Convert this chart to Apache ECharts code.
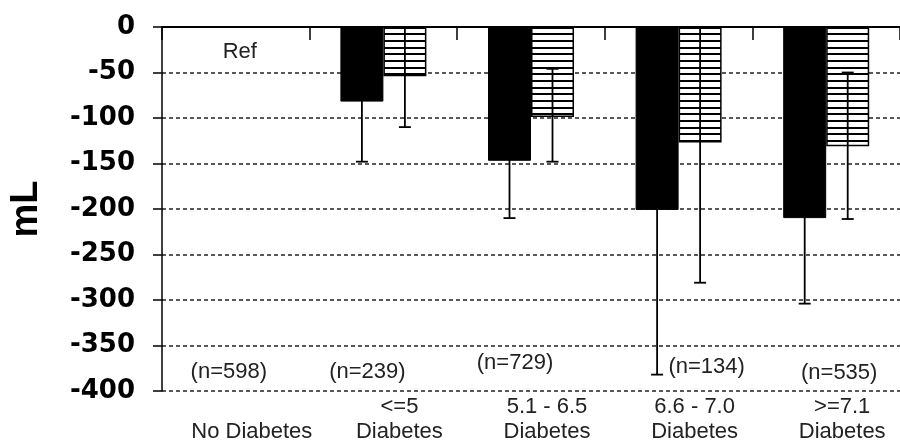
<!DOCTYPE html>
<html><head><meta charset="utf-8">
<script src="https://cdn.jsdelivr.net/npm/echarts@6/dist/echarts.min.js"></script>
<style>html,body{margin:0;padding:0;background:#fff}#c{width:900px;height:446px}</style>
</head><body><div id="c"></div>
<script>
// ---- data ----
const categories = ['\nNo Diabetes', '<=5\nDiabetes', '5.1 - 6.5\nDiabetes', '6.6 - 7.0\nDiabetes', '>=7.1\nDiabetes'];
const sampleSizes = ['(n=598)', '(n=239)', '(n=729)', '(n=134)', '(n=535)'];
const refText = 'Ref';
const yMin = -400, yMax = 0, yStep = 50;
const solidValues = [null, -82, -147, -201, -210];
const solidLow    = [null, -148, -210, -382, -304];
const solidHigh   = [null, -16, -84, -20, -116];
const hatchValues = [null, -54, -99, -127, -131];
const hatchLow    = [null, -110, -148, -281, -211];
const hatchHigh   = [null, 2, -46, 26, -50];

// ---- layout / style ----
const BAR_W = 43;
const nLabelDx = [-7, -16, -16, 28, 13];
const nLabelDy = [0, 0, -9, -5, 1];
const FONT = "'Liberation Sans', Arial, sans-serif";

const pc = document.createElement('canvas');
pc.width = 8; pc.height = 20;
const g = pc.getContext('2d');
g.fillStyle = '#fff'; g.fillRect(0, 0, 8, 20);
g.fillStyle = '#000';
g.fillRect(0, 0, 8, 2); g.fillRect(0, 7, 8, 2); g.fillRect(0, 13, 8, 2);

function errData(vals, lo, hi) {
  const out = [];
  vals.forEach((v, i) => { if (v != null) out.push([i, lo[i], hi[i]]); });
  return out;
}
function errRender(side) {
  return function (params, api) {
    const i = api.value(0), lo = api.value(1), hi = api.value(2);
    const c = api.coord([i, 0]);
    const x = c[0] + side * BAR_W / 2;
    const yT = api.coord([i, Math.min(hi, yMax)])[1];
    const yB = api.coord([i, Math.max(lo, yMin)])[1];
    const st = { stroke: '#000', lineWidth: 1.8 };
    const ch = [{ type: 'line', shape: { x1: x, y1: yT, x2: x, y2: yB }, style: st }];
    if (lo >= yMin) ch.push({ type: 'line', shape: { x1: x - 6, y1: yB, x2: x + 6, y2: yB }, style: st });
    if (hi <= yMax) ch.push({ type: 'line', shape: { x1: x - 6, y1: yT, x2: x + 6, y2: yT }, style: st });
    return { type: 'group', children: ch };
  };
}

const chart = echarts.init(document.getElementById('c'), null, { renderer: 'canvas' });
chart.setOption({
  animation: false,
  backgroundColor: '#fff',
  grid: { left: 162, top: 27, width: 740, height: 364, containLabel: false },
  xAxis: [{
    type: 'category', data: categories, position: 'bottom',
    axisLine: { show: true, lineStyle: { color: '#000', width: 1.5 } },
    axisTick: { show: false },
    axisLabel: { fontFamily: FONT, fontSize: 22, lineHeight: 25, color: '#222', margin: 3, padding: [0, 0, 0, 32], interval: 0 }
  }, {
    type: 'category', data: categories, position: 'top',
    axisLine: { show: true, lineStyle: { color: '#000', width: 2 } },
    axisTick: { show: true, inside: true, length: 13, lineStyle: { color: '#000', width: 1.5 } },
    axisLabel: { show: false }
  }],
  yAxis: {
    type: 'value', min: yMin, max: yMax, interval: yStep,
    name: 'mL', nameLocation: 'middle', nameGap: 116,
    nameTextStyle: { fontFamily: FONT, fontSize: 38, fontWeight: 'bold', color: '#000' },
    axisLine: { show: true, lineStyle: { color: '#000', width: 1.5 } },
    axisTick: { show: true, length: 9, lineStyle: { color: '#000', width: 1.5 } },
    axisLabel: { fontFamily: "'DejaVu Sans', sans-serif", fontWeight: 'bold', fontSize: 26, color: '#000', margin: 27 },
    splitLine: { show: true, lineStyle: { color: '#222', width: 1.5, type: [4, 3] } }
  },
  series: [{
    type: 'bar', data: solidValues, barWidth: BAR_W, barGap: '0%',
    itemStyle: { color: '#000', borderColor: '#000', borderWidth: 1 }
  }, {
    type: 'bar', data: hatchValues, barWidth: BAR_W, barGap: '0%',
    itemStyle: { color: { image: pc, repeat: 'repeat' }, borderColor: '#000', borderWidth: 1.5 }
  }, {
    type: 'custom', data: errData(solidValues, solidLow, solidHigh), renderItem: errRender(-1), z: 5
  }, {
    type: 'custom', data: errData(hatchValues, hatchLow, hatchHigh), renderItem: errRender(1), z: 5
  }, {
    type: 'custom', data: sampleSizes.map((s, i) => [i]), z: 6,
    renderItem: function (params, api) {
      const i = api.value(0);
      const p = api.coord([i, yMin]);
      const ch = [{
        type: 'text',
        style: { x: p[0] + nLabelDx[i], y: p[1] - 19 + nLabelDy[i], text: sampleSizes[i], font: '22px ' + FONT, fill: '#222', align: 'center', verticalAlign: 'middle' }
      }];
      if (i === 0) {
        const q = api.coord([i, yMax]);
        ch.push({ type: 'text', style: { x: q[0] + 4, y: q[1] + 25, text: refText, font: '22px ' + FONT, fill: '#222', align: 'center', verticalAlign: 'middle' } });
      }
      return { type: 'group', children: ch };
    }
  }]
});
</script></body></html>
